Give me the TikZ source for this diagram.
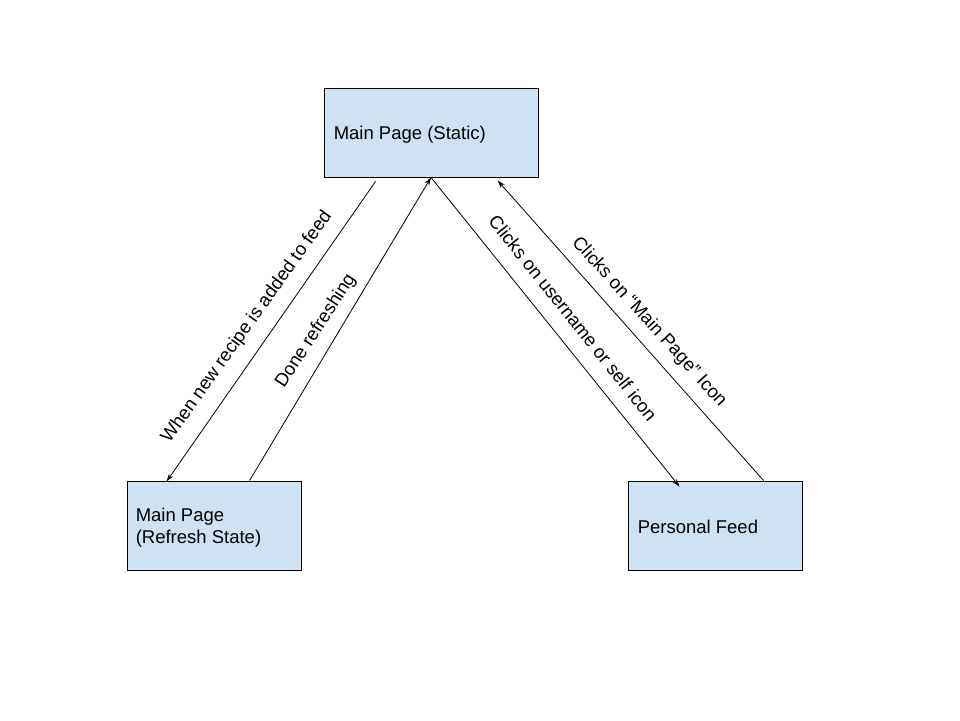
\documentclass[tikz,border=0pt]{standalone}
\usepackage{fontspec}
\setmainfont{Liberation Sans}
\usetikzlibrary{arrows.meta}
\definecolor{boxfill}{HTML}{CFE2F3}
\begin{document}
\begin{tikzpicture}[x=1pt,y=-1pt,
  statebox/.style={draw=black,line width=0.9pt,fill=boxfill,rectangle,minimum height=89pt,inner sep=0pt},
  boxtext/.style={anchor=west,inner sep=0pt,align=left,font=\fontsize{18.5}{22.5}\selectfont},
  edgelabel/.style={font=\fontsize{18.5}{22}\selectfont,inner sep=0pt},
  conn/.style={line width=0.8pt,-{Stealth[length=8pt,width=5pt]}}]
\useasboundingbox (0,0) rectangle (960,720);
\fill[white] (0,0) rectangle (960,720);
\node[statebox,minimum width=214pt] (st) at (431,132.5) {};
\node[statebox,minimum width=174pt] (rf) at (214,525.5) {};
\node[statebox,minimum width=174pt] (pf) at (715,525.5) {};
\node[boxtext] (stt) at ([shift={(10,2)}]st.west) {Main Page (Static)};
\node[boxtext] (rft) at ([shift={(9,2)}]rf.west) {Main Page\\(Refresh State)};
\node[boxtext] (pft) at ([shift={(10,1.5)}]pf.west) {Personal Feed};
\draw[conn] ([shift={(52,4)}]st.south west) -- ([shift={(40,1)}]rf.north west);
\draw[conn] ([shift={(123,0)}]rf.north west) -- (st.south);
\draw[conn] (st.south) -- ([shift={(52,6)}]pf.north west);
\draw[conn] ([shift={(136,0)}]pf.north west) -- ([shift={(174,3)}]st.south west);
\node[edgelabel,rotate=54.5] (l1) at (247,327) {When new recipe is added to feed};
\node[edgelabel,rotate=57] (l2) at (316,331) {Done refreshing};
\node[edgelabel,rotate=-51.4] (l3) at (573,318) {Clicks on username or self icon};
\node[edgelabel,rotate=-48] (l4) at (649,322) {Clicks on “Main Page” Icon};
\end{tikzpicture}
\end{document}
